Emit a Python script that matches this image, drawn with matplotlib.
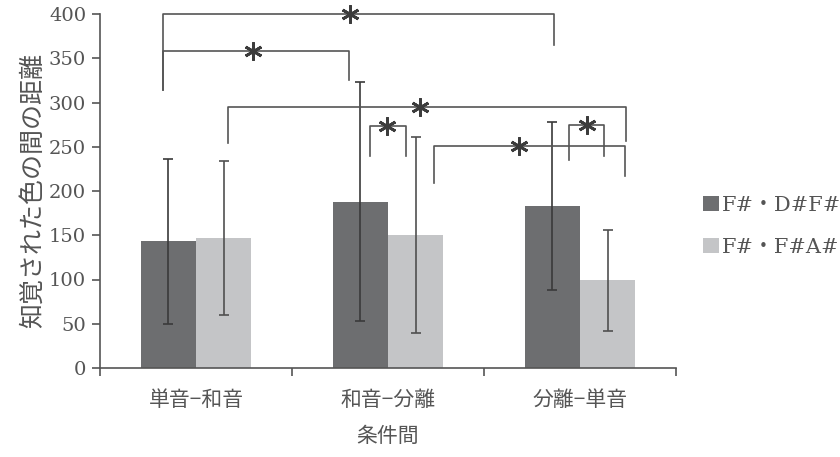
import matplotlib
matplotlib.use('Agg')
import numpy as np
from matplotlib import pyplot as plt

categories = ['単音−和音', '和音−分離', '分離−単音']
series_names = ['F#・D#F#', 'F#・F#A#']
dark_means = [143, 188, 183]
dark_errs = [93, 135, 95]
light_means = [147, 150, 99]
light_errs = [87, 111, 57]

# significance brackets: x-left, x-right, bar height, left leg bottom, right leg bottom, star x
brackets = [
    (-0.172, 1.865, 400, 314, 365, 0.802),
    (-0.172, 0.797, 358, 314, 325, 0.297),
    (0.167, 2.240, 295, 254, 256, 1.167),
    (0.906, 1.094, 274, 240, 240, 0.995),
    (1.240, 2.234, 251, 209, 217, 1.682),
    (1.943, 2.125, 275, 235, 240, 2.036),
]

dark = '#6d6e70'
light = '#c4c5c7'
axis_col = '#555555'
text_col = '#555555'

serif = ['DejaVu Serif', 'Noto Sans CJK JP']
jp = ['Noto Sans CJK JP', 'DejaVu Sans']

fig = plt.figure(figsize=(8.4, 4.57), dpi=100)
ax = fig.add_axes([100 / 840, 1 - 368 / 457, 576 / 840, 354 / 457])

x = np.arange(len(categories))
w = 0.288
ax.bar(x - w / 2, dark_means, w, color=dark, label=series_names[0], zorder=2)
ax.bar(x + w / 2, light_means, w, color=light, label=series_names[1], zorder=2)
ax.errorbar(x - w / 2, dark_means, yerr=dark_errs, fmt='none', ecolor='#3a3a3a',
            elinewidth=1.2, capsize=3.5, capthick=1.2, zorder=3)
ax.errorbar(x + w / 2, light_means, yerr=light_errs, fmt='none', ecolor='#505050',
            elinewidth=1.2, capsize=3.5, capthick=1.2, zorder=3)

for x0, x1, h, l0, l1, sx in brackets:
    ax.plot([x0, x0, x1, x1], [l0, h, h, l1], color=axis_col, lw=1.2,
            clip_on=False, zorder=4)
    ax.plot(sx, h, marker=(6, 2, 0), ms=13, mew=2.0, color='#3c3c3c',
            clip_on=False, zorder=5)

ax.set_xlim(-0.5, 2.5)
ax.set_ylim(0, 400)
ax.set_yticks(np.arange(0, 401, 50))
ax.set_xticks(x)
ax.set_xticklabels(categories, family=jp, fontsize=15, color=text_col)
ax.set_xticks([-0.5, 0.5, 1.5, 2.5], minor=True)
ax.tick_params(axis='x', which='major', length=0, pad=15)
ax.tick_params(axis='x', which='minor', length=6, direction='out', color=axis_col, width=1.2)
ax.tick_params(axis='y', length=6, direction='out', color=axis_col, width=1.2,
               labelsize=14, labelcolor=text_col, pad=4)
for lab in ax.get_yticklabels():
    lab.set_family('DejaVu Serif')

for side in ['top', 'right']:
    ax.spines[side].set_visible(False)
for side in ['left', 'bottom']:
    ax.spines[side].set_color(axis_col)
    ax.spines[side].set_linewidth(1.2)

ax.set_xlabel('条件間', family=jp, fontsize=15, color=text_col, labelpad=10)
ax.set_ylabel('知覚された色の間の距離', family=jp, fontsize=18, color=text_col, labelpad=2)

leg = ax.legend(loc='upper left', bbox_to_anchor=(703 / 840, 1 - 196 / 457),
                bbox_transform=fig.transFigure, frameon=False,
                prop={'family': serif, 'size': 15}, handlelength=0.75,
                handleheight=0.75, handletextpad=0.15, labelspacing=1.1,
                borderpad=0, borderaxespad=0)
for t in leg.get_texts():
    t.set_color(text_col)

fig.savefig('out.png', dpi=100)
